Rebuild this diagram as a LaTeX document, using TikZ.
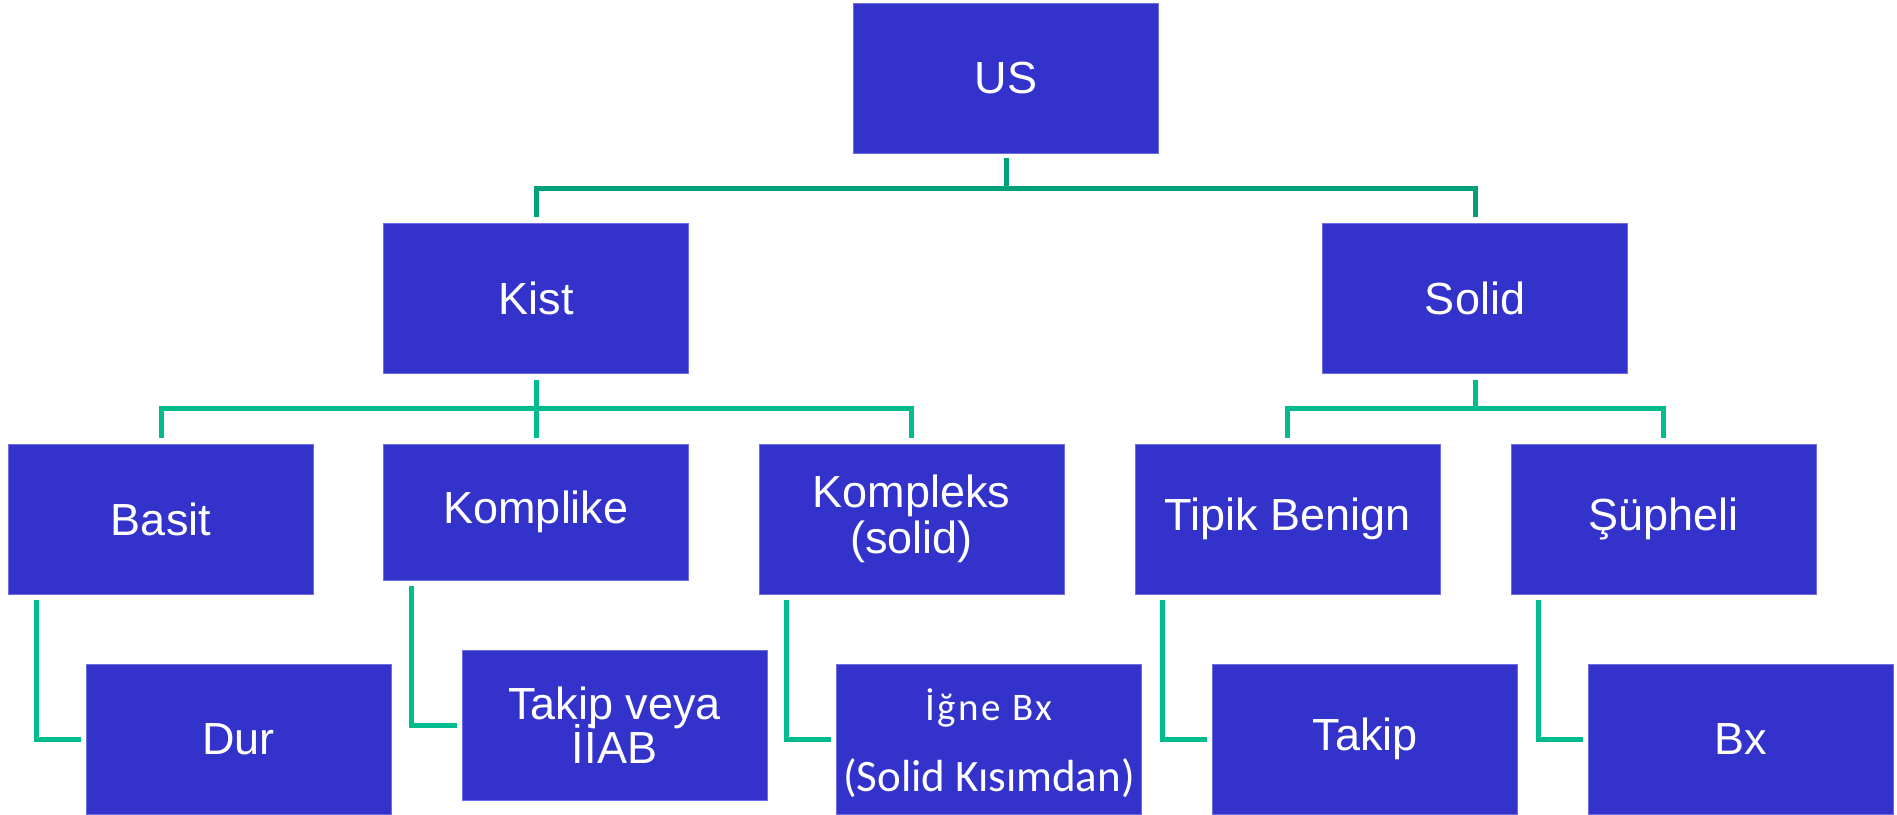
\documentclass[tikz,border=0pt]{standalone}
\usepackage{fontspec}
\setmainfont{Liberation Sans}
\newfontfamily\calfont{Carlito}
\definecolor{boxblue}{RGB}{51,51,204}
\definecolor{boxedge}{RGB}{110,110,225}
\definecolor{lineA}{RGB}{0,160,122}
\definecolor{lineB}{RGB}{0,188,140}
\tikzset{
  boxnode/.style={rectangle, fill=boxblue, draw=boxedge, line width=0.8pt,
    minimum width=305pt, minimum height=150pt, inner sep=0pt, text=white,
    align=center, font=\fontsize{45}{47}\selectfont},
  boxtext/.style={inner sep=0pt, text=white, align=center},
  connA/.style={draw=lineA, line width=5pt},
  connB/.style={draw=lineB, line width=5pt},
}
\begin{document}
\begin{tikzpicture}[x=1pt,y=-1pt]
\useasboundingbox (0,0) rectangle (1897,814);
\node[boxnode] (US) at (1006,78) {US};
\node[boxnode] (Kist) at (536,298.5) {Kist};
\node[boxnode] (Solid) at (1475,298.5) {Solid};
\node[boxnode] (Basit) at (161,519) {Basit};
\node[boxnode, minimum height=136pt] (Komplike) at (536,512) {Komplike};
\node[boxnode, font=\fontsize{45}{46}\selectfont] (Kompleks) at (911.5,519) {Kompleks\\(solid)};
\node[boxnode] (Tipik) at (1287.5,519) {Tipik Benign};
\node[boxnode] (Supheli) at (1663.5,519) {Şüpheli};
\node[boxnode] (Dur) at (238.5,739) {Dur};
\node[boxnode] (TakipVeya) at (614.5,725) {Takip veya\\[-6pt]İİAB};
\node[boxnode] (Igne) at (989,739) {};
\node[boxtext, font=\calfont\fontsize{45}{68}\selectfont] (IgneText) at (989,743)
  {{\addfontfeature{LetterSpace=6}\fontsize{39}{68}\selectfont İğne Bx}\\[3pt](Solid Kısımdan)};
\node[boxnode] (Takip) at (1365,739) {Takip};
\node[boxnode] (Bx) at (1740.5,739) {Bx};
% top level
\coordinate (j1) at (1006,188);
\draw[connA] ([yshift=-5pt]US.south) -- (j1);
\draw[connA] ([yshift=6pt]Kist.north) |- (j1) -| ([yshift=6pt]Solid.north);
% Kist children
\coordinate (j2) at (536,408);
\draw[connB] ([yshift=-6pt]Kist.south) -- ([yshift=6pt]Komplike.north);
\draw[connB] ([yshift=6pt]Basit.north) |- (j2) -| ([yshift=6pt]Kompleks.north);
% Solid children
\coordinate (j3) at (1475,408);
\draw[connB] ([yshift=-6pt]Solid.south) -- (j3);
\draw[connB] ([yshift=6pt]Tipik.north) |- (j3) -| ([yshift=6pt]Supheli.north);
% leaf connectors
\draw[connB] ([xshift=28pt,yshift=-6pt]Basit.south west) |- ([xshift=-5pt]Dur.west);
\draw[connB] ([xshift=28pt,yshift=-6pt]Komplike.south west) |- ([xshift=-5pt]TakipVeya.west);
\draw[connB] ([xshift=28pt,yshift=-6pt]Kompleks.south west) |- ([xshift=-5pt]Igne.west);
\draw[connB] ([xshift=28pt,yshift=-6pt]Tipik.south west) |- ([xshift=-5pt]Takip.west);
\draw[connB] ([xshift=28pt,yshift=-6pt]Supheli.south west) |- ([xshift=-5pt]Bx.west);
\end{tikzpicture}
\end{document}
